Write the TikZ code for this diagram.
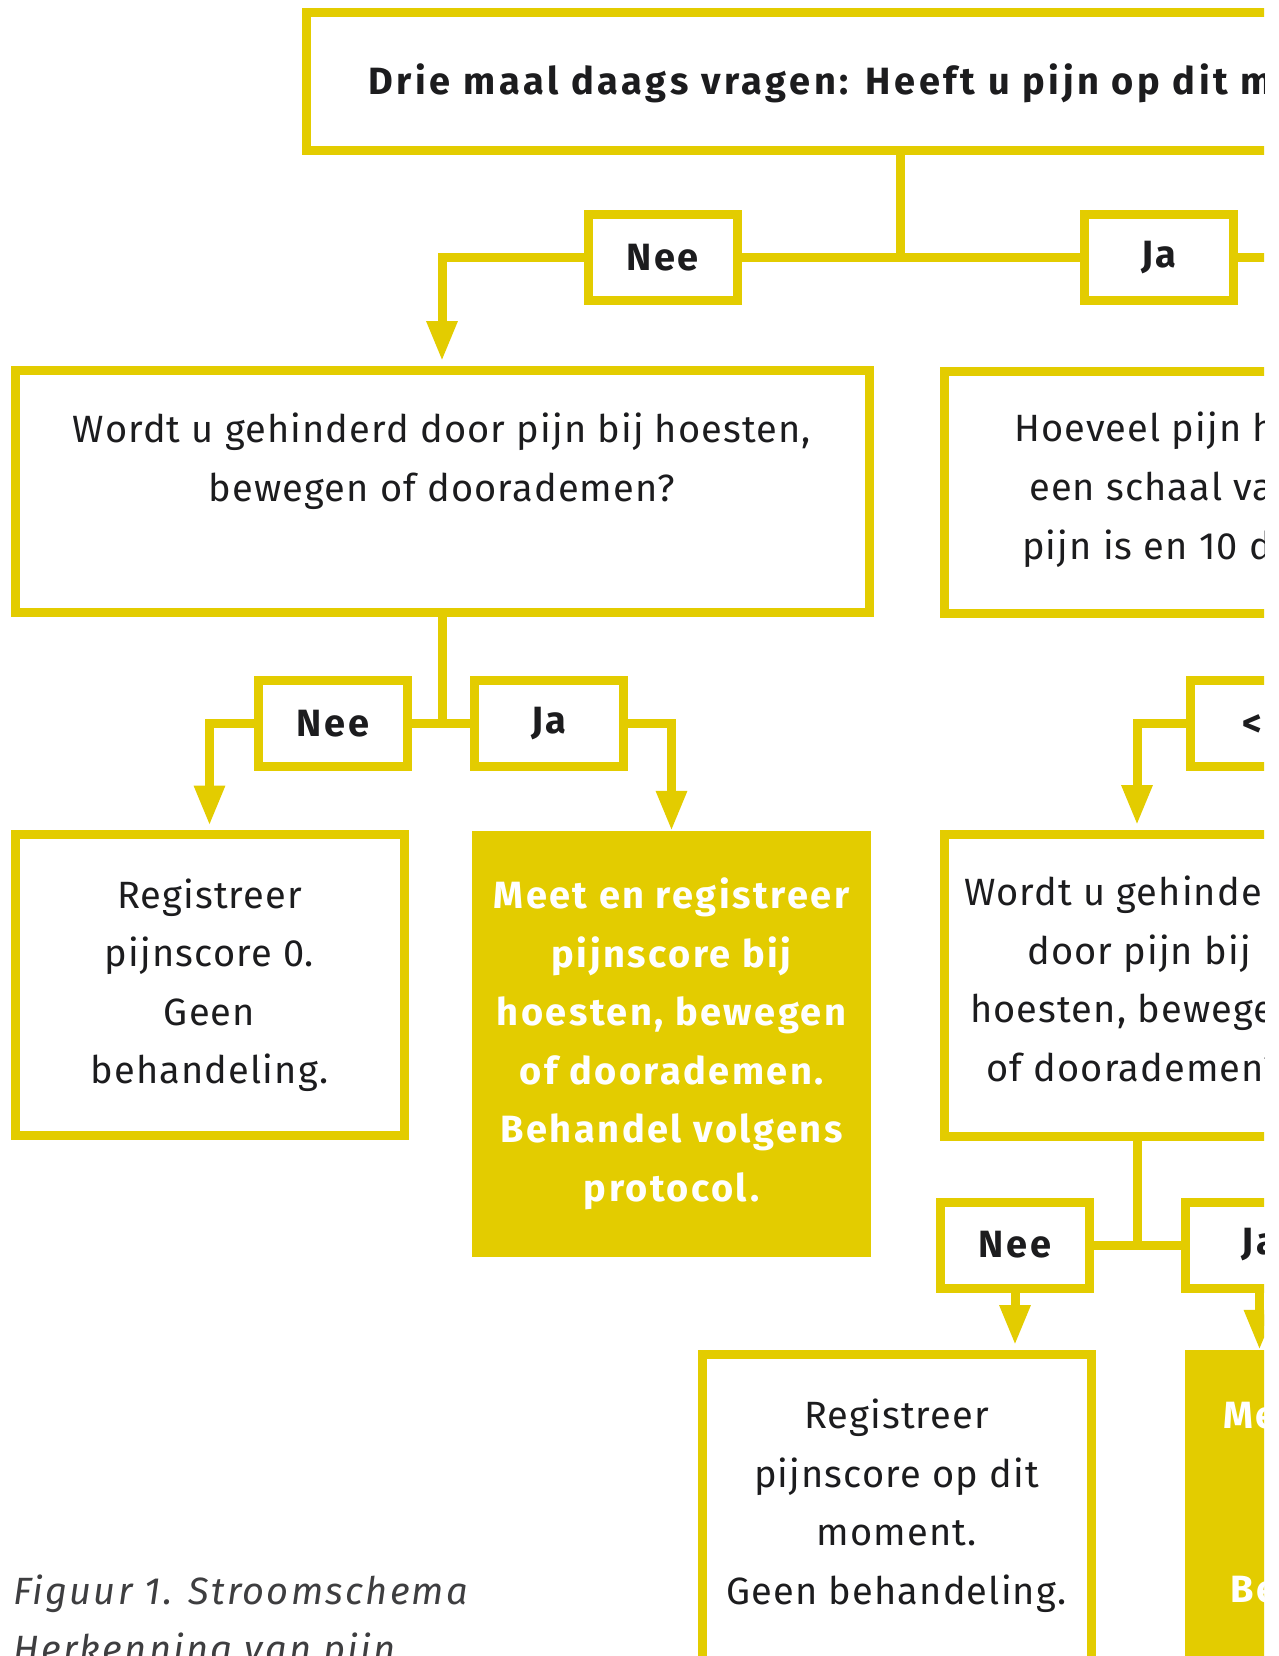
\documentclass[tikz,border=0pt]{standalone}
\usepackage{fontspec}
\setmainfont{Fira Sans}
\newfontfamily\fsreg{Fira Sans}[LetterSpace=3]
\newfontfamily\fsvet{Fira Sans}[LetterSpace=6.5]
\newfontfamily\fstop{Fira Sans}[LetterSpace=9.5]
\newfontfamily\fscap{Fira Sans}[LetterSpace=6]
\usetikzlibrary{arrows.meta}
\definecolor{geel}{RGB}{227,204,0}
\definecolor{inkt}{RGB}{28,28,30}
\definecolor{grijs}{RGB}{62,62,64}
\begin{document}
\begin{tikzpicture}[x=1pt,y=-1pt,
  lijn/.style={draw=geel,line width=9pt},
  pijl/.style={lijn,-{Triangle[length=40pt,width=29pt]}},
  pijlk/.style={pijl,shorten >=4.5pt},
  kader/.style={draw=geel,line width=9pt,fill=white,inner sep=0pt},
  keuze/.style={kader,minimum width=149pt,minimum height=86pt,text=inkt,font=\fontsize{38}{44}\fsvet\bfseries},
  vlak/.style={fill=geel,inner sep=0pt},
  tekst/.style={inner sep=0pt,text=inkt,font=\fontsize{38}{58.5}\fsreg},
  vet/.style={inner sep=0pt,text=inkt,font=\fontsize{38}{44}\fstop\bfseries},
  wit/.style={inner sep=0pt,text=white,font=\fontsize{38}{58.5}\fsvet\bfseries},
  vak/.style={kader,tekst,align=center},
]
\fill[white] (0,0) rectangle (1278,1656);
\useasboundingbox (0,0) rectangle (1278,1656);
\begin{scope}
\clip (0,0) rectangle (1264,1656);
% top question
\node[kader,minimum width=1294pt,minimum height=138pt] (top) at (953,82) {};
\node[vet,anchor=base west] (toptxt) at (368,95) {Drie maal daags vragen: Heeft u pijn op dit moment?};
\node[keuze] (nee1) at (662.5,257.5) {Nee};
\node[keuze] (ja1) at (1159,257.5) {Ja};
\coordinate (j1) at (900,257.5);
\coordinate (e1) at (1300,257.5);
% left column
\node[kader,minimum width=854pt,minimum height=242pt] (q1) at (442,491) {};
\node[tekst,align=center,anchor=north] (q1t) at (442,413) {Wordt u gehinderd door pijn bij hoesten,\\bewegen of doorademen?};
\node[keuze] (nee2) at (333,723.5) {Nee};
\node[keuze] (ja2) at (549,723.5) {Ja};
\node[vak,minimum width=389pt,minimum height=301pt] (r1) at (209.5,985) {Registreer\\pijnscore 0.\\Geen\\behandeling.};
\node[vlak,wit,align=center,minimum width=399pt,minimum height=426pt] (m1) at (671.5,1044) {Meet en registreer\\pijnscore bij\\hoesten, bewegen\\of doorademen.\\Behandel volgens\\protocol.};
% right column
\node[kader,minimum width=800pt,minimum height=242pt] (q2) at (1344,492) {};
\node[tekst,anchor=base west] (q2a) at (1014,441) {Hoeveel pijn heeft};
\node[tekst,anchor=base west] (q2b) at (1029,500) {een schaal van};
\node[tekst,anchor=base west] (q2c) at (1022,559) {pijn is en 10 de};
\node[keuze] (kl4) at (1264.5,723.5) {<4};
\node[kader,minimum width=386pt,minimum height=302pt] (r2) at (1137,985) {};
\node[tekst,anchor=base west] (r2a) at (964,905) {Wordt u gehinderd};
\node[tekst,anchor=base west] (r2b) at (1027,964) {door pijn bij};
\node[tekst,anchor=base west] (r2c) at (970,1022) {hoesten, bewegen};
\node[tekst,anchor=base west] (r2d) at (986,1081) {of doorademen?};
\node[keuze] (nee3) at (1015,1245) {Nee};
\node[keuze] (ja3) at (1259.5,1245) {Ja};
\node[kader,minimum width=389pt,minimum height=346pt] (r3) at (896.5,1527) {};
\node[tekst,align=center,anchor=north] (r3t) at (896.5,1399) {Registreer\\pijnscore op dit\\moment.\\Geen behandeling.};
\node[vlak,minimum width=399pt,minimum height=350pt] (m2) at (1384.5,1525) {};
\node[wit,anchor=base west] (m2a) at (1223,1428) {Meet en registreer};
\node[wit,anchor=base west] (m2b) at (1230,1602) {Behandel volgens};
% connectors
\draw[lijn] (top.south -| j1) -- (j1);
\draw[lijn] (nee1.east) -- (ja1.west);
\draw[lijn] (ja1.east) -- (e1);
\draw[pijlk] (nee1.west) -| (q1.north);
\draw[lijn] (q1.south) -- (q1.south |- nee2.east);
\draw[lijn] (nee2.east) -- (ja2.west);
\draw[pijlk] (nee2.west) -| (r1.north);
\draw[pijl] (ja2.east) -| (m1.north);
\draw[pijlk] (kl4.west) -| (r2.north);
\draw[lijn] (r2.south) -- (r2.south |- nee3.east);
\draw[lijn] (nee3.east) -- (ja3.west);
\draw[pijlk] (nee3.south) -- (nee3.south |- r3.north);
\draw[pijl] (ja3.south) -- (ja3.south |- m2.north);
\end{scope}
\node[tekst,text=grijs,font=\fontsize{38}{58}\fscap\itshape,align=left,anchor=north west] (cap) at (13,1575) {Figuur 1. Stroomschema\\Herkenning van pijn};
\end{tikzpicture}
\end{document}
